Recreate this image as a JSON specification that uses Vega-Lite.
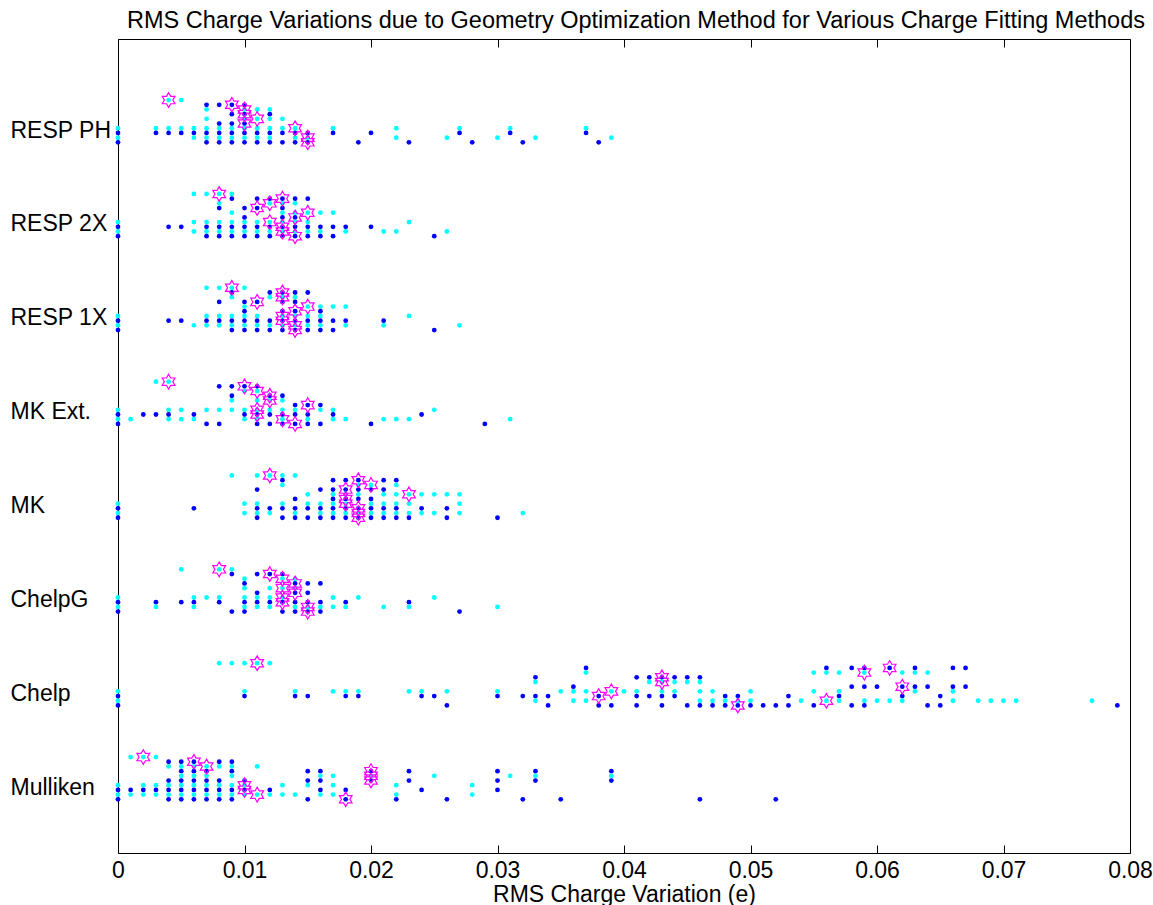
{
  "$schema": "https://vega.github.io/schema/vega-lite/v6.json",
  "width": 1012,
  "height": 814,
  "autosize": {"type": "none"},
  "padding": {"left": 118, "top": 39, "right": 23, "bottom": 52},
  "background": "white",
  "title": {
    "text": "RMS Charge Variations due to Geometry Optimization Method for Various Charge Fitting Methods",
    "font": "Liberation Sans",
    "fontSize": 23.5,
    "fontWeight": "normal",
    "color": "black",
    "anchor": "middle",
    "baseline": "alphabetic",
    "offset": -13,
    "dx": 12
  },
  "config": {
    "font": "Liberation Sans",
    "view": {"stroke": "black", "strokeWidth": 1}
  },
  "data": {"values": [
{"method":"RESP PH","rms":0.004,"level":9,"set":"B"},{"method":"RESP PH","rms":0.005,"level":9,"set":"B"},
{"method":"RESP PH","rms":0.007,"level":8,"set":"A"},{"method":"RESP PH","rms":0.008,"level":8,"set":"A"},{"method":"RESP PH","rms":0.009,"level":8,"set":"A"},{"method":"RESP PH","rms":0.01,"level":8,"set":"A"},
{"method":"RESP PH","rms":0.007,"level":7,"set":"B"},{"method":"RESP PH","rms":0.01,"level":7,"set":"B"},{"method":"RESP PH","rms":0.011,"level":7,"set":"B"},{"method":"RESP PH","rms":0.012,"level":7,"set":"B"},
{"method":"RESP PH","rms":0.009,"level":6,"set":"A"},{"method":"RESP PH","rms":0.01,"level":6,"set":"A"},{"method":"RESP PH","rms":0.012,"level":6,"set":"A"},
{"method":"RESP PH","rms":0.007,"level":5,"set":"B"},{"method":"RESP PH","rms":0.01,"level":5,"set":"B"},{"method":"RESP PH","rms":0.011,"level":5,"set":"B"},{"method":"RESP PH","rms":0.012,"level":5,"set":"B"},{"method":"RESP PH","rms":0.013,"level":5,"set":"B"},
{"method":"RESP PH","rms":0.008,"level":4,"set":"A"},{"method":"RESP PH","rms":0.009,"level":4,"set":"A"},{"method":"RESP PH","rms":0.01,"level":4,"set":"A"},
{"method":"RESP PH","rms":0,"level":3,"set":"B"},{"method":"RESP PH","rms":0.003,"level":3,"set":"B"},{"method":"RESP PH","rms":0.004,"level":3,"set":"B"},{"method":"RESP PH","rms":0.005,"level":3,"set":"B"},{"method":"RESP PH","rms":0.006,"level":3,"set":"B"},{"method":"RESP PH","rms":0.007,"level":3,"set":"B"},{"method":"RESP PH","rms":0.008,"level":3,"set":"B"},{"method":"RESP PH","rms":0.009,"level":3,"set":"B"},{"method":"RESP PH","rms":0.01,"level":3,"set":"B"},{"method":"RESP PH","rms":0.011,"level":3,"set":"B"},{"method":"RESP PH","rms":0.012,"level":3,"set":"B"},{"method":"RESP PH","rms":0.013,"level":3,"set":"B"},{"method":"RESP PH","rms":0.014,"level":3,"set":"B"},{"method":"RESP PH","rms":0.017,"level":3,"set":"B"},{"method":"RESP PH","rms":0.022,"level":3,"set":"B"},{"method":"RESP PH","rms":0.027,"level":3,"set":"B"},{"method":"RESP PH","rms":0.031,"level":3,"set":"B"},{"method":"RESP PH","rms":0.037,"level":3,"set":"B"},
{"method":"RESP PH","rms":0,"level":2,"set":"A"},{"method":"RESP PH","rms":0.003,"level":2,"set":"A"},{"method":"RESP PH","rms":0.004,"level":2,"set":"A"},{"method":"RESP PH","rms":0.005,"level":2,"set":"A"},{"method":"RESP PH","rms":0.006,"level":2,"set":"A"},{"method":"RESP PH","rms":0.007,"level":2,"set":"A"},{"method":"RESP PH","rms":0.008,"level":2,"set":"A"},{"method":"RESP PH","rms":0.009,"level":2,"set":"A"},{"method":"RESP PH","rms":0.01,"level":2,"set":"A"},{"method":"RESP PH","rms":0.011,"level":2,"set":"A"},{"method":"RESP PH","rms":0.012,"level":2,"set":"A"},{"method":"RESP PH","rms":0.013,"level":2,"set":"A"},{"method":"RESP PH","rms":0.014,"level":2,"set":"A"},{"method":"RESP PH","rms":0.015,"level":2,"set":"A"},{"method":"RESP PH","rms":0.017,"level":2,"set":"A"},{"method":"RESP PH","rms":0.02,"level":2,"set":"A"},{"method":"RESP PH","rms":0.027,"level":2,"set":"A"},{"method":"RESP PH","rms":0.031,"level":2,"set":"A"},{"method":"RESP PH","rms":0.037,"level":2,"set":"A"},
{"method":"RESP PH","rms":0,"level":1,"set":"B"},{"method":"RESP PH","rms":0.006,"level":1,"set":"B"},{"method":"RESP PH","rms":0.007,"level":1,"set":"B"},{"method":"RESP PH","rms":0.008,"level":1,"set":"B"},{"method":"RESP PH","rms":0.009,"level":1,"set":"B"},{"method":"RESP PH","rms":0.01,"level":1,"set":"B"},{"method":"RESP PH","rms":0.011,"level":1,"set":"B"},{"method":"RESP PH","rms":0.012,"level":1,"set":"B"},{"method":"RESP PH","rms":0.014,"level":1,"set":"B"},{"method":"RESP PH","rms":0.015,"level":1,"set":"B"},{"method":"RESP PH","rms":0.022,"level":1,"set":"B"},{"method":"RESP PH","rms":0.026,"level":1,"set":"B"},{"method":"RESP PH","rms":0.03,"level":1,"set":"B"},{"method":"RESP PH","rms":0.033,"level":1,"set":"B"},{"method":"RESP PH","rms":0.039,"level":1,"set":"B"},
{"method":"RESP PH","rms":0,"level":0,"set":"A"},{"method":"RESP PH","rms":0.007,"level":0,"set":"A"},{"method":"RESP PH","rms":0.008,"level":0,"set":"A"},{"method":"RESP PH","rms":0.009,"level":0,"set":"A"},{"method":"RESP PH","rms":0.01,"level":0,"set":"A"},{"method":"RESP PH","rms":0.011,"level":0,"set":"A"},{"method":"RESP PH","rms":0.012,"level":0,"set":"A"},{"method":"RESP PH","rms":0.013,"level":0,"set":"A"},{"method":"RESP PH","rms":0.014,"level":0,"set":"A"},{"method":"RESP PH","rms":0.015,"level":0,"set":"A"},{"method":"RESP PH","rms":0.019,"level":0,"set":"A"},{"method":"RESP PH","rms":0.023,"level":0,"set":"A"},{"method":"RESP PH","rms":0.028,"level":0,"set":"A"},{"method":"RESP PH","rms":0.032,"level":0,"set":"A"},{"method":"RESP PH","rms":0.038,"level":0,"set":"A"},

{"method":"RESP 2X","rms":0.006,"level":9,"set":"B"},{"method":"RESP 2X","rms":0.007,"level":9,"set":"B"},{"method":"RESP 2X","rms":0.008,"level":9,"set":"B"},{"method":"RESP 2X","rms":0.009,"level":9,"set":"B"},
{"method":"RESP 2X","rms":0.009,"level":8,"set":"A"},{"method":"RESP 2X","rms":0.011,"level":8,"set":"A"},{"method":"RESP 2X","rms":0.012,"level":8,"set":"A"},{"method":"RESP 2X","rms":0.013,"level":8,"set":"A"},{"method":"RESP 2X","rms":0.014,"level":8,"set":"A"},{"method":"RESP 2X","rms":0.015,"level":8,"set":"A"},
{"method":"RESP 2X","rms":0.008,"level":7,"set":"B"},{"method":"RESP 2X","rms":0.012,"level":7,"set":"B"},{"method":"RESP 2X","rms":0.013,"level":7,"set":"B"},{"method":"RESP 2X","rms":0.014,"level":7,"set":"B"},
{"method":"RESP 2X","rms":0.008,"level":6,"set":"A"},{"method":"RESP 2X","rms":0.01,"level":6,"set":"A"},{"method":"RESP 2X","rms":0.011,"level":6,"set":"A"},{"method":"RESP 2X","rms":0.013,"level":6,"set":"A"},
{"method":"RESP 2X","rms":0.009,"level":5,"set":"B"},{"method":"RESP 2X","rms":0.013,"level":5,"set":"B"},{"method":"RESP 2X","rms":0.014,"level":5,"set":"B"},{"method":"RESP 2X","rms":0.015,"level":5,"set":"B"},{"method":"RESP 2X","rms":0.016,"level":5,"set":"B"},{"method":"RESP 2X","rms":0.017,"level":5,"set":"B"},
{"method":"RESP 2X","rms":0.01,"level":4,"set":"A"},{"method":"RESP 2X","rms":0.013,"level":4,"set":"A"},{"method":"RESP 2X","rms":0.014,"level":4,"set":"A"},
{"method":"RESP 2X","rms":0,"level":3,"set":"B"},{"method":"RESP 2X","rms":0.006,"level":3,"set":"B"},{"method":"RESP 2X","rms":0.007,"level":3,"set":"B"},{"method":"RESP 2X","rms":0.008,"level":3,"set":"B"},{"method":"RESP 2X","rms":0.009,"level":3,"set":"B"},{"method":"RESP 2X","rms":0.01,"level":3,"set":"B"},{"method":"RESP 2X","rms":0.011,"level":3,"set":"B"},{"method":"RESP 2X","rms":0.012,"level":3,"set":"B"},{"method":"RESP 2X","rms":0.013,"level":3,"set":"B"},{"method":"RESP 2X","rms":0.014,"level":3,"set":"B"},{"method":"RESP 2X","rms":0.015,"level":3,"set":"B"},{"method":"RESP 2X","rms":0.023,"level":3,"set":"B"},
{"method":"RESP 2X","rms":0,"level":2,"set":"A"},{"method":"RESP 2X","rms":0.004,"level":2,"set":"A"},{"method":"RESP 2X","rms":0.005,"level":2,"set":"A"},{"method":"RESP 2X","rms":0.007,"level":2,"set":"A"},{"method":"RESP 2X","rms":0.008,"level":2,"set":"A"},{"method":"RESP 2X","rms":0.009,"level":2,"set":"A"},{"method":"RESP 2X","rms":0.01,"level":2,"set":"A"},{"method":"RESP 2X","rms":0.011,"level":2,"set":"A"},{"method":"RESP 2X","rms":0.012,"level":2,"set":"A"},{"method":"RESP 2X","rms":0.013,"level":2,"set":"A"},{"method":"RESP 2X","rms":0.014,"level":2,"set":"A"},{"method":"RESP 2X","rms":0.015,"level":2,"set":"A"},{"method":"RESP 2X","rms":0.016,"level":2,"set":"A"},{"method":"RESP 2X","rms":0.017,"level":2,"set":"A"},{"method":"RESP 2X","rms":0.018,"level":2,"set":"A"},{"method":"RESP 2X","rms":0.02,"level":2,"set":"A"},
{"method":"RESP 2X","rms":0,"level":1,"set":"B"},{"method":"RESP 2X","rms":0.006,"level":1,"set":"B"},{"method":"RESP 2X","rms":0.007,"level":1,"set":"B"},{"method":"RESP 2X","rms":0.008,"level":1,"set":"B"},{"method":"RESP 2X","rms":0.009,"level":1,"set":"B"},{"method":"RESP 2X","rms":0.01,"level":1,"set":"B"},{"method":"RESP 2X","rms":0.011,"level":1,"set":"B"},{"method":"RESP 2X","rms":0.012,"level":1,"set":"B"},{"method":"RESP 2X","rms":0.013,"level":1,"set":"B"},{"method":"RESP 2X","rms":0.014,"level":1,"set":"B"},{"method":"RESP 2X","rms":0.015,"level":1,"set":"B"},{"method":"RESP 2X","rms":0.016,"level":1,"set":"B"},{"method":"RESP 2X","rms":0.018,"level":1,"set":"B"},{"method":"RESP 2X","rms":0.021,"level":1,"set":"B"},{"method":"RESP 2X","rms":0.022,"level":1,"set":"B"},{"method":"RESP 2X","rms":0.026,"level":1,"set":"B"},
{"method":"RESP 2X","rms":0,"level":0,"set":"A"},{"method":"RESP 2X","rms":0.007,"level":0,"set":"A"},{"method":"RESP 2X","rms":0.008,"level":0,"set":"A"},{"method":"RESP 2X","rms":0.009,"level":0,"set":"A"},{"method":"RESP 2X","rms":0.01,"level":0,"set":"A"},{"method":"RESP 2X","rms":0.011,"level":0,"set":"A"},{"method":"RESP 2X","rms":0.012,"level":0,"set":"A"},{"method":"RESP 2X","rms":0.013,"level":0,"set":"A"},{"method":"RESP 2X","rms":0.014,"level":0,"set":"A"},{"method":"RESP 2X","rms":0.015,"level":0,"set":"A"},{"method":"RESP 2X","rms":0.016,"level":0,"set":"A"},{"method":"RESP 2X","rms":0.017,"level":0,"set":"A"},{"method":"RESP 2X","rms":0.025,"level":0,"set":"A"},

{"method":"RESP 1X","rms":0.007,"level":9,"set":"B"},{"method":"RESP 1X","rms":0.008,"level":9,"set":"B"},{"method":"RESP 1X","rms":0.009,"level":9,"set":"B"},{"method":"RESP 1X","rms":0.01,"level":9,"set":"B"},
{"method":"RESP 1X","rms":0.009,"level":8,"set":"A"},{"method":"RESP 1X","rms":0.012,"level":8,"set":"A"},{"method":"RESP 1X","rms":0.013,"level":8,"set":"A"},{"method":"RESP 1X","rms":0.014,"level":8,"set":"A"},{"method":"RESP 1X","rms":0.015,"level":8,"set":"A"},
{"method":"RESP 1X","rms":0.009,"level":7,"set":"B"},{"method":"RESP 1X","rms":0.012,"level":7,"set":"B"},{"method":"RESP 1X","rms":0.013,"level":7,"set":"B"},{"method":"RESP 1X","rms":0.014,"level":7,"set":"B"},
{"method":"RESP 1X","rms":0.008,"level":6,"set":"A"},{"method":"RESP 1X","rms":0.01,"level":6,"set":"A"},{"method":"RESP 1X","rms":0.011,"level":6,"set":"A"},{"method":"RESP 1X","rms":0.013,"level":6,"set":"A"},{"method":"RESP 1X","rms":0.014,"level":6,"set":"A"},
{"method":"RESP 1X","rms":0.01,"level":5,"set":"B"},{"method":"RESP 1X","rms":0.015,"level":5,"set":"B"},{"method":"RESP 1X","rms":0.016,"level":5,"set":"B"},{"method":"RESP 1X","rms":0.017,"level":5,"set":"B"},{"method":"RESP 1X","rms":0.018,"level":5,"set":"B"},
{"method":"RESP 1X","rms":0.01,"level":4,"set":"A"},{"method":"RESP 1X","rms":0.013,"level":4,"set":"A"},{"method":"RESP 1X","rms":0.014,"level":4,"set":"A"},{"method":"RESP 1X","rms":0.016,"level":4,"set":"A"},
{"method":"RESP 1X","rms":0,"level":3,"set":"B"},{"method":"RESP 1X","rms":0.007,"level":3,"set":"B"},{"method":"RESP 1X","rms":0.008,"level":3,"set":"B"},{"method":"RESP 1X","rms":0.009,"level":3,"set":"B"},{"method":"RESP 1X","rms":0.01,"level":3,"set":"B"},{"method":"RESP 1X","rms":0.011,"level":3,"set":"B"},{"method":"RESP 1X","rms":0.013,"level":3,"set":"B"},{"method":"RESP 1X","rms":0.014,"level":3,"set":"B"},{"method":"RESP 1X","rms":0.015,"level":3,"set":"B"},{"method":"RESP 1X","rms":0.016,"level":3,"set":"B"},{"method":"RESP 1X","rms":0.023,"level":3,"set":"B"},
{"method":"RESP 1X","rms":0,"level":2,"set":"A"},{"method":"RESP 1X","rms":0.004,"level":2,"set":"A"},{"method":"RESP 1X","rms":0.005,"level":2,"set":"A"},{"method":"RESP 1X","rms":0.007,"level":2,"set":"A"},{"method":"RESP 1X","rms":0.008,"level":2,"set":"A"},{"method":"RESP 1X","rms":0.009,"level":2,"set":"A"},{"method":"RESP 1X","rms":0.01,"level":2,"set":"A"},{"method":"RESP 1X","rms":0.011,"level":2,"set":"A"},{"method":"RESP 1X","rms":0.012,"level":2,"set":"A"},{"method":"RESP 1X","rms":0.013,"level":2,"set":"A"},{"method":"RESP 1X","rms":0.014,"level":2,"set":"A"},{"method":"RESP 1X","rms":0.015,"level":2,"set":"A"},{"method":"RESP 1X","rms":0.016,"level":2,"set":"A"},{"method":"RESP 1X","rms":0.017,"level":2,"set":"A"},{"method":"RESP 1X","rms":0.018,"level":2,"set":"A"},{"method":"RESP 1X","rms":0.021,"level":2,"set":"A"},
{"method":"RESP 1X","rms":0,"level":1,"set":"B"},{"method":"RESP 1X","rms":0.006,"level":1,"set":"B"},{"method":"RESP 1X","rms":0.007,"level":1,"set":"B"},{"method":"RESP 1X","rms":0.008,"level":1,"set":"B"},{"method":"RESP 1X","rms":0.009,"level":1,"set":"B"},{"method":"RESP 1X","rms":0.01,"level":1,"set":"B"},{"method":"RESP 1X","rms":0.011,"level":1,"set":"B"},{"method":"RESP 1X","rms":0.012,"level":1,"set":"B"},{"method":"RESP 1X","rms":0.013,"level":1,"set":"B"},{"method":"RESP 1X","rms":0.014,"level":1,"set":"B"},{"method":"RESP 1X","rms":0.015,"level":1,"set":"B"},{"method":"RESP 1X","rms":0.016,"level":1,"set":"B"},{"method":"RESP 1X","rms":0.018,"level":1,"set":"B"},{"method":"RESP 1X","rms":0.021,"level":1,"set":"B"},{"method":"RESP 1X","rms":0.027,"level":1,"set":"B"},
{"method":"RESP 1X","rms":0,"level":0,"set":"A"},{"method":"RESP 1X","rms":0.009,"level":0,"set":"A"},{"method":"RESP 1X","rms":0.01,"level":0,"set":"A"},{"method":"RESP 1X","rms":0.011,"level":0,"set":"A"},{"method":"RESP 1X","rms":0.012,"level":0,"set":"A"},{"method":"RESP 1X","rms":0.013,"level":0,"set":"A"},{"method":"RESP 1X","rms":0.014,"level":0,"set":"A"},{"method":"RESP 1X","rms":0.015,"level":0,"set":"A"},{"method":"RESP 1X","rms":0.016,"level":0,"set":"A"},{"method":"RESP 1X","rms":0.017,"level":0,"set":"A"},{"method":"RESP 1X","rms":0.025,"level":0,"set":"A"},

{"method":"MK Ext.","rms":0.003,"level":9,"set":"B"},{"method":"MK Ext.","rms":0.004,"level":9,"set":"B"},
{"method":"MK Ext.","rms":0.008,"level":8,"set":"A"},{"method":"MK Ext.","rms":0.009,"level":8,"set":"A"},{"method":"MK Ext.","rms":0.01,"level":8,"set":"A"},{"method":"MK Ext.","rms":0.011,"level":8,"set":"A"},
{"method":"MK Ext.","rms":0.01,"level":7,"set":"B"},{"method":"MK Ext.","rms":0.011,"level":7,"set":"B"},
{"method":"MK Ext.","rms":0.009,"level":6,"set":"A"},{"method":"MK Ext.","rms":0.012,"level":6,"set":"A"},{"method":"MK Ext.","rms":0.013,"level":6,"set":"A"},
{"method":"MK Ext.","rms":0.009,"level":5,"set":"B"},{"method":"MK Ext.","rms":0.011,"level":5,"set":"B"},{"method":"MK Ext.","rms":0.012,"level":5,"set":"B"},{"method":"MK Ext.","rms":0.013,"level":5,"set":"B"},
{"method":"MK Ext.","rms":0.014,"level":4,"set":"A"},{"method":"MK Ext.","rms":0.015,"level":4,"set":"A"},{"method":"MK Ext.","rms":0.016,"level":4,"set":"A"},
{"method":"MK Ext.","rms":0,"level":3,"set":"B"},{"method":"MK Ext.","rms":0.004,"level":3,"set":"B"},{"method":"MK Ext.","rms":0.005,"level":3,"set":"B"},{"method":"MK Ext.","rms":0.007,"level":3,"set":"B"},{"method":"MK Ext.","rms":0.008,"level":3,"set":"B"},{"method":"MK Ext.","rms":0.009,"level":3,"set":"B"},{"method":"MK Ext.","rms":0.01,"level":3,"set":"B"},{"method":"MK Ext.","rms":0.011,"level":3,"set":"B"},{"method":"MK Ext.","rms":0.012,"level":3,"set":"B"},{"method":"MK Ext.","rms":0.013,"level":3,"set":"B"},{"method":"MK Ext.","rms":0.014,"level":3,"set":"B"},{"method":"MK Ext.","rms":0.016,"level":3,"set":"B"},{"method":"MK Ext.","rms":0.017,"level":3,"set":"B"},{"method":"MK Ext.","rms":0.025,"level":3,"set":"B"},
{"method":"MK Ext.","rms":0,"level":2,"set":"A"},{"method":"MK Ext.","rms":0.002,"level":2,"set":"A"},{"method":"MK Ext.","rms":0.003,"level":2,"set":"A"},{"method":"MK Ext.","rms":0.004,"level":2,"set":"A"},{"method":"MK Ext.","rms":0.006,"level":2,"set":"A"},{"method":"MK Ext.","rms":0.01,"level":2,"set":"A"},{"method":"MK Ext.","rms":0.011,"level":2,"set":"A"},{"method":"MK Ext.","rms":0.012,"level":2,"set":"A"},{"method":"MK Ext.","rms":0.013,"level":2,"set":"A"},{"method":"MK Ext.","rms":0.014,"level":2,"set":"A"},{"method":"MK Ext.","rms":0.015,"level":2,"set":"A"},{"method":"MK Ext.","rms":0.017,"level":2,"set":"A"},{"method":"MK Ext.","rms":0.024,"level":2,"set":"A"},
{"method":"MK Ext.","rms":0,"level":1,"set":"B"},{"method":"MK Ext.","rms":0.001,"level":1,"set":"B"},{"method":"MK Ext.","rms":0.004,"level":1,"set":"B"},{"method":"MK Ext.","rms":0.005,"level":1,"set":"B"},{"method":"MK Ext.","rms":0.006,"level":1,"set":"B"},{"method":"MK Ext.","rms":0.01,"level":1,"set":"B"},{"method":"MK Ext.","rms":0.011,"level":1,"set":"B"},{"method":"MK Ext.","rms":0.013,"level":1,"set":"B"},{"method":"MK Ext.","rms":0.015,"level":1,"set":"B"},{"method":"MK Ext.","rms":0.017,"level":1,"set":"B"},{"method":"MK Ext.","rms":0.018,"level":1,"set":"B"},{"method":"MK Ext.","rms":0.021,"level":1,"set":"B"},{"method":"MK Ext.","rms":0.022,"level":1,"set":"B"},{"method":"MK Ext.","rms":0.023,"level":1,"set":"B"},{"method":"MK Ext.","rms":0.031,"level":1,"set":"B"},
{"method":"MK Ext.","rms":0,"level":0,"set":"A"},{"method":"MK Ext.","rms":0.007,"level":0,"set":"A"},{"method":"MK Ext.","rms":0.008,"level":0,"set":"A"},{"method":"MK Ext.","rms":0.011,"level":0,"set":"A"},{"method":"MK Ext.","rms":0.012,"level":0,"set":"A"},{"method":"MK Ext.","rms":0.013,"level":0,"set":"A"},{"method":"MK Ext.","rms":0.014,"level":0,"set":"A"},{"method":"MK Ext.","rms":0.015,"level":0,"set":"A"},{"method":"MK Ext.","rms":0.016,"level":0,"set":"A"},{"method":"MK Ext.","rms":0.02,"level":0,"set":"A"},{"method":"MK Ext.","rms":0.029,"level":0,"set":"A"},

{"method":"MK","rms":0.009,"level":9,"set":"B"},{"method":"MK","rms":0.011,"level":9,"set":"B"},{"method":"MK","rms":0.012,"level":9,"set":"B"},{"method":"MK","rms":0.013,"level":9,"set":"B"},{"method":"MK","rms":0.014,"level":9,"set":"B"},
{"method":"MK","rms":0.013,"level":8,"set":"A"},{"method":"MK","rms":0.017,"level":8,"set":"A"},{"method":"MK","rms":0.018,"level":8,"set":"A"},{"method":"MK","rms":0.019,"level":8,"set":"A"},{"method":"MK","rms":0.021,"level":8,"set":"A"},{"method":"MK","rms":0.022,"level":8,"set":"A"},
{"method":"MK","rms":0.013,"level":7,"set":"B"},{"method":"MK","rms":0.019,"level":7,"set":"B"},{"method":"MK","rms":0.02,"level":7,"set":"B"},{"method":"MK","rms":0.022,"level":7,"set":"B"},
{"method":"MK","rms":0.011,"level":6,"set":"A"},{"method":"MK","rms":0.016,"level":6,"set":"A"},{"method":"MK","rms":0.017,"level":6,"set":"A"},{"method":"MK","rms":0.018,"level":6,"set":"A"},{"method":"MK","rms":0.019,"level":6,"set":"A"},{"method":"MK","rms":0.02,"level":6,"set":"A"},{"method":"MK","rms":0.021,"level":6,"set":"A"},
{"method":"MK","rms":0.015,"level":5,"set":"B"},{"method":"MK","rms":0.017,"level":5,"set":"B"},{"method":"MK","rms":0.018,"level":5,"set":"B"},{"method":"MK","rms":0.019,"level":5,"set":"B"},{"method":"MK","rms":0.021,"level":5,"set":"B"},{"method":"MK","rms":0.022,"level":5,"set":"B"},{"method":"MK","rms":0.023,"level":5,"set":"B"},{"method":"MK","rms":0.024,"level":5,"set":"B"},{"method":"MK","rms":0.025,"level":5,"set":"B"},{"method":"MK","rms":0.026,"level":5,"set":"B"},{"method":"MK","rms":0.027,"level":5,"set":"B"},
{"method":"MK","rms":0.014,"level":4,"set":"A"},{"method":"MK","rms":0.017,"level":4,"set":"A"},{"method":"MK","rms":0.018,"level":4,"set":"A"},{"method":"MK","rms":0.019,"level":4,"set":"A"},{"method":"MK","rms":0.02,"level":4,"set":"A"},
{"method":"MK","rms":0,"level":3,"set":"B"},{"method":"MK","rms":0.01,"level":3,"set":"B"},{"method":"MK","rms":0.011,"level":3,"set":"B"},{"method":"MK","rms":0.013,"level":3,"set":"B"},{"method":"MK","rms":0.015,"level":3,"set":"B"},{"method":"MK","rms":0.016,"level":3,"set":"B"},{"method":"MK","rms":0.017,"level":3,"set":"B"},{"method":"MK","rms":0.018,"level":3,"set":"B"},{"method":"MK","rms":0.02,"level":3,"set":"B"},{"method":"MK","rms":0.021,"level":3,"set":"B"},{"method":"MK","rms":0.022,"level":3,"set":"B"},{"method":"MK","rms":0.023,"level":3,"set":"B"},{"method":"MK","rms":0.027,"level":3,"set":"B"},
{"method":"MK","rms":0,"level":2,"set":"A"},{"method":"MK","rms":0.006,"level":2,"set":"A"},{"method":"MK","rms":0.011,"level":2,"set":"A"},{"method":"MK","rms":0.012,"level":2,"set":"A"},{"method":"MK","rms":0.013,"level":2,"set":"A"},{"method":"MK","rms":0.014,"level":2,"set":"A"},{"method":"MK","rms":0.015,"level":2,"set":"A"},{"method":"MK","rms":0.016,"level":2,"set":"A"},{"method":"MK","rms":0.017,"level":2,"set":"A"},{"method":"MK","rms":0.018,"level":2,"set":"A"},{"method":"MK","rms":0.019,"level":2,"set":"A"},{"method":"MK","rms":0.02,"level":2,"set":"A"},{"method":"MK","rms":0.021,"level":2,"set":"A"},{"method":"MK","rms":0.022,"level":2,"set":"A"},{"method":"MK","rms":0.024,"level":2,"set":"A"},{"method":"MK","rms":0.026,"level":2,"set":"A"},
{"method":"MK","rms":0,"level":1,"set":"B"},{"method":"MK","rms":0.01,"level":1,"set":"B"},{"method":"MK","rms":0.011,"level":1,"set":"B"},{"method":"MK","rms":0.012,"level":1,"set":"B"},{"method":"MK","rms":0.014,"level":1,"set":"B"},{"method":"MK","rms":0.016,"level":1,"set":"B"},{"method":"MK","rms":0.017,"level":1,"set":"B"},{"method":"MK","rms":0.018,"level":1,"set":"B"},{"method":"MK","rms":0.019,"level":1,"set":"B"},{"method":"MK","rms":0.02,"level":1,"set":"B"},{"method":"MK","rms":0.021,"level":1,"set":"B"},{"method":"MK","rms":0.022,"level":1,"set":"B"},{"method":"MK","rms":0.023,"level":1,"set":"B"},{"method":"MK","rms":0.024,"level":1,"set":"B"},{"method":"MK","rms":0.025,"level":1,"set":"B"},{"method":"MK","rms":0.027,"level":1,"set":"B"},{"method":"MK","rms":0.032,"level":1,"set":"B"},
{"method":"MK","rms":0,"level":0,"set":"A"},{"method":"MK","rms":0.011,"level":0,"set":"A"},{"method":"MK","rms":0.013,"level":0,"set":"A"},{"method":"MK","rms":0.014,"level":0,"set":"A"},{"method":"MK","rms":0.015,"level":0,"set":"A"},{"method":"MK","rms":0.016,"level":0,"set":"A"},{"method":"MK","rms":0.017,"level":0,"set":"A"},{"method":"MK","rms":0.018,"level":0,"set":"A"},{"method":"MK","rms":0.019,"level":0,"set":"A"},{"method":"MK","rms":0.02,"level":0,"set":"A"},{"method":"MK","rms":0.021,"level":0,"set":"A"},{"method":"MK","rms":0.022,"level":0,"set":"A"},{"method":"MK","rms":0.023,"level":0,"set":"A"},{"method":"MK","rms":0.026,"level":0,"set":"A"},{"method":"MK","rms":0.03,"level":0,"set":"A"},

{"method":"ChelpG","rms":0.005,"level":9,"set":"B"},{"method":"ChelpG","rms":0.008,"level":9,"set":"B"},{"method":"ChelpG","rms":0.009,"level":9,"set":"B"},
{"method":"ChelpG","rms":0.009,"level":8,"set":"A"},{"method":"ChelpG","rms":0.011,"level":8,"set":"A"},{"method":"ChelpG","rms":0.012,"level":8,"set":"A"},{"method":"ChelpG","rms":0.013,"level":8,"set":"A"},
{"method":"ChelpG","rms":0.01,"level":7,"set":"B"},{"method":"ChelpG","rms":0.013,"level":7,"set":"B"},{"method":"ChelpG","rms":0.014,"level":7,"set":"B"},
{"method":"ChelpG","rms":0.01,"level":6,"set":"A"},{"method":"ChelpG","rms":0.014,"level":6,"set":"A"},{"method":"ChelpG","rms":0.015,"level":6,"set":"A"},{"method":"ChelpG","rms":0.016,"level":6,"set":"A"},
{"method":"ChelpG","rms":0.01,"level":5,"set":"B"},{"method":"ChelpG","rms":0.012,"level":5,"set":"B"},{"method":"ChelpG","rms":0.013,"level":5,"set":"B"},{"method":"ChelpG","rms":0.014,"level":5,"set":"B"},
{"method":"ChelpG","rms":0.011,"level":4,"set":"A"},{"method":"ChelpG","rms":0.014,"level":4,"set":"A"},{"method":"ChelpG","rms":0.015,"level":4,"set":"A"},
{"method":"ChelpG","rms":0,"level":3,"set":"B"},{"method":"ChelpG","rms":0.006,"level":3,"set":"B"},{"method":"ChelpG","rms":0.007,"level":3,"set":"B"},{"method":"ChelpG","rms":0.008,"level":3,"set":"B"},{"method":"ChelpG","rms":0.01,"level":3,"set":"B"},{"method":"ChelpG","rms":0.011,"level":3,"set":"B"},{"method":"ChelpG","rms":0.012,"level":3,"set":"B"},{"method":"ChelpG","rms":0.013,"level":3,"set":"B"},{"method":"ChelpG","rms":0.017,"level":3,"set":"B"},{"method":"ChelpG","rms":0.019,"level":3,"set":"B"},{"method":"ChelpG","rms":0.025,"level":3,"set":"B"},
{"method":"ChelpG","rms":0,"level":2,"set":"A"},{"method":"ChelpG","rms":0.003,"level":2,"set":"A"},{"method":"ChelpG","rms":0.005,"level":2,"set":"A"},{"method":"ChelpG","rms":0.006,"level":2,"set":"A"},{"method":"ChelpG","rms":0.008,"level":2,"set":"A"},{"method":"ChelpG","rms":0.01,"level":2,"set":"A"},{"method":"ChelpG","rms":0.011,"level":2,"set":"A"},{"method":"ChelpG","rms":0.012,"level":2,"set":"A"},{"method":"ChelpG","rms":0.013,"level":2,"set":"A"},{"method":"ChelpG","rms":0.014,"level":2,"set":"A"},{"method":"ChelpG","rms":0.015,"level":2,"set":"A"},{"method":"ChelpG","rms":0.016,"level":2,"set":"A"},{"method":"ChelpG","rms":0.018,"level":2,"set":"A"},{"method":"ChelpG","rms":0.023,"level":2,"set":"A"},
{"method":"ChelpG","rms":0,"level":1,"set":"B"},{"method":"ChelpG","rms":0.003,"level":1,"set":"B"},{"method":"ChelpG","rms":0.006,"level":1,"set":"B"},{"method":"ChelpG","rms":0.01,"level":1,"set":"B"},{"method":"ChelpG","rms":0.011,"level":1,"set":"B"},{"method":"ChelpG","rms":0.012,"level":1,"set":"B"},{"method":"ChelpG","rms":0.014,"level":1,"set":"B"},{"method":"ChelpG","rms":0.015,"level":1,"set":"B"},{"method":"ChelpG","rms":0.016,"level":1,"set":"B"},{"method":"ChelpG","rms":0.017,"level":1,"set":"B"},{"method":"ChelpG","rms":0.018,"level":1,"set":"B"},{"method":"ChelpG","rms":0.021,"level":1,"set":"B"},{"method":"ChelpG","rms":0.023,"level":1,"set":"B"},{"method":"ChelpG","rms":0.03,"level":1,"set":"B"},
{"method":"ChelpG","rms":0,"level":0,"set":"A"},{"method":"ChelpG","rms":0.009,"level":0,"set":"A"},{"method":"ChelpG","rms":0.01,"level":0,"set":"A"},{"method":"ChelpG","rms":0.013,"level":0,"set":"A"},{"method":"ChelpG","rms":0.014,"level":0,"set":"A"},{"method":"ChelpG","rms":0.015,"level":0,"set":"A"},{"method":"ChelpG","rms":0.016,"level":0,"set":"A"},{"method":"ChelpG","rms":0.027,"level":0,"set":"A"},

{"method":"Chelp","rms":0.008,"level":9,"set":"B"},{"method":"Chelp","rms":0.009,"level":9,"set":"B"},{"method":"Chelp","rms":0.01,"level":9,"set":"B"},{"method":"Chelp","rms":0.011,"level":9,"set":"B"},{"method":"Chelp","rms":0.012,"level":9,"set":"B"},
{"method":"Chelp","rms":0.037,"level":8,"set":"A"},{"method":"Chelp","rms":0.056,"level":8,"set":"A"},{"method":"Chelp","rms":0.058,"level":8,"set":"A"},{"method":"Chelp","rms":0.059,"level":8,"set":"A"},{"method":"Chelp","rms":0.061,"level":8,"set":"A"},{"method":"Chelp","rms":0.063,"level":8,"set":"A"},{"method":"Chelp","rms":0.066,"level":8,"set":"A"},{"method":"Chelp","rms":0.067,"level":8,"set":"A"},
{"method":"Chelp","rms":0.037,"level":7,"set":"B"},{"method":"Chelp","rms":0.055,"level":7,"set":"B"},{"method":"Chelp","rms":0.056,"level":7,"set":"B"},{"method":"Chelp","rms":0.057,"level":7,"set":"B"},{"method":"Chelp","rms":0.059,"level":7,"set":"B"},{"method":"Chelp","rms":0.062,"level":7,"set":"B"},{"method":"Chelp","rms":0.063,"level":7,"set":"B"},{"method":"Chelp","rms":0.064,"level":7,"set":"B"},
{"method":"Chelp","rms":0.033,"level":6,"set":"A"},{"method":"Chelp","rms":0.041,"level":6,"set":"A"},{"method":"Chelp","rms":0.042,"level":6,"set":"A"},{"method":"Chelp","rms":0.043,"level":6,"set":"A"},{"method":"Chelp","rms":0.044,"level":6,"set":"A"},{"method":"Chelp","rms":0.045,"level":6,"set":"A"},{"method":"Chelp","rms":0.046,"level":6,"set":"A"},
{"method":"Chelp","rms":0.033,"level":5,"set":"B"},{"method":"Chelp","rms":0.042,"level":5,"set":"B"},{"method":"Chelp","rms":0.043,"level":5,"set":"B"},{"method":"Chelp","rms":0.044,"level":5,"set":"B"},{"method":"Chelp","rms":0.045,"level":5,"set":"B"},{"method":"Chelp","rms":0.046,"level":5,"set":"B"},
{"method":"Chelp","rms":0.036,"level":4,"set":"A"},{"method":"Chelp","rms":0.058,"level":4,"set":"A"},{"method":"Chelp","rms":0.059,"level":4,"set":"A"},{"method":"Chelp","rms":0.06,"level":4,"set":"A"},{"method":"Chelp","rms":0.062,"level":4,"set":"A"},{"method":"Chelp","rms":0.063,"level":4,"set":"A"},{"method":"Chelp","rms":0.064,"level":4,"set":"A"},{"method":"Chelp","rms":0.066,"level":4,"set":"A"},{"method":"Chelp","rms":0.067,"level":4,"set":"A"},
{"method":"Chelp","rms":0,"level":3,"set":"B"},{"method":"Chelp","rms":0.01,"level":3,"set":"B"},{"method":"Chelp","rms":0.014,"level":3,"set":"B"},{"method":"Chelp","rms":0.017,"level":3,"set":"B"},{"method":"Chelp","rms":0.018,"level":3,"set":"B"},{"method":"Chelp","rms":0.019,"level":3,"set":"B"},{"method":"Chelp","rms":0.023,"level":3,"set":"B"},{"method":"Chelp","rms":0.024,"level":3,"set":"B"},{"method":"Chelp","rms":0.026,"level":3,"set":"B"},{"method":"Chelp","rms":0.03,"level":3,"set":"B"},{"method":"Chelp","rms":0.035,"level":3,"set":"B"},{"method":"Chelp","rms":0.036,"level":3,"set":"B"},{"method":"Chelp","rms":0.037,"level":3,"set":"B"},{"method":"Chelp","rms":0.039,"level":3,"set":"B"},{"method":"Chelp","rms":0.04,"level":3,"set":"B"},{"method":"Chelp","rms":0.041,"level":3,"set":"B"},{"method":"Chelp","rms":0.043,"level":3,"set":"B"},{"method":"Chelp","rms":0.044,"level":3,"set":"B"},{"method":"Chelp","rms":0.046,"level":3,"set":"B"},{"method":"Chelp","rms":0.047,"level":3,"set":"B"},{"method":"Chelp","rms":0.05,"level":3,"set":"B"},{"method":"Chelp","rms":0.055,"level":3,"set":"B"},{"method":"Chelp","rms":0.057,"level":3,"set":"B"},{"method":"Chelp","rms":0.063,"level":3,"set":"B"},{"method":"Chelp","rms":0.066,"level":3,"set":"B"},
{"method":"Chelp","rms":0,"level":2,"set":"A"},{"method":"Chelp","rms":0.01,"level":2,"set":"A"},{"method":"Chelp","rms":0.014,"level":2,"set":"A"},{"method":"Chelp","rms":0.015,"level":2,"set":"A"},{"method":"Chelp","rms":0.018,"level":2,"set":"A"},{"method":"Chelp","rms":0.019,"level":2,"set":"A"},{"method":"Chelp","rms":0.024,"level":2,"set":"A"},{"method":"Chelp","rms":0.025,"level":2,"set":"A"},{"method":"Chelp","rms":0.03,"level":2,"set":"A"},{"method":"Chelp","rms":0.032,"level":2,"set":"A"},{"method":"Chelp","rms":0.033,"level":2,"set":"A"},{"method":"Chelp","rms":0.034,"level":2,"set":"A"},{"method":"Chelp","rms":0.038,"level":2,"set":"A"},{"method":"Chelp","rms":0.041,"level":2,"set":"A"},{"method":"Chelp","rms":0.042,"level":2,"set":"A"},{"method":"Chelp","rms":0.043,"level":2,"set":"A"},{"method":"Chelp","rms":0.044,"level":2,"set":"A"},{"method":"Chelp","rms":0.048,"level":2,"set":"A"},{"method":"Chelp","rms":0.049,"level":2,"set":"A"},{"method":"Chelp","rms":0.053,"level":2,"set":"A"},{"method":"Chelp","rms":0.057,"level":2,"set":"A"},{"method":"Chelp","rms":0.062,"level":2,"set":"A"},{"method":"Chelp","rms":0.065,"level":2,"set":"A"},
{"method":"Chelp","rms":0,"level":1,"set":"B"},{"method":"Chelp","rms":0.033,"level":1,"set":"B"},{"method":"Chelp","rms":0.036,"level":1,"set":"B"},{"method":"Chelp","rms":0.037,"level":1,"set":"B"},{"method":"Chelp","rms":0.046,"level":1,"set":"B"},{"method":"Chelp","rms":0.047,"level":1,"set":"B"},{"method":"Chelp","rms":0.048,"level":1,"set":"B"},{"method":"Chelp","rms":0.049,"level":1,"set":"B"},{"method":"Chelp","rms":0.05,"level":1,"set":"B"},{"method":"Chelp","rms":0.054,"level":1,"set":"B"},{"method":"Chelp","rms":0.056,"level":1,"set":"B"},{"method":"Chelp","rms":0.057,"level":1,"set":"B"},{"method":"Chelp","rms":0.059,"level":1,"set":"B"},{"method":"Chelp","rms":0.06,"level":1,"set":"B"},{"method":"Chelp","rms":0.061,"level":1,"set":"B"},{"method":"Chelp","rms":0.062,"level":1,"set":"B"},{"method":"Chelp","rms":0.066,"level":1,"set":"B"},{"method":"Chelp","rms":0.068,"level":1,"set":"B"},{"method":"Chelp","rms":0.069,"level":1,"set":"B"},{"method":"Chelp","rms":0.07,"level":1,"set":"B"},{"method":"Chelp","rms":0.071,"level":1,"set":"B"},{"method":"Chelp","rms":0.077,"level":1,"set":"B"},
{"method":"Chelp","rms":0,"level":0,"set":"A"},{"method":"Chelp","rms":0.026,"level":0,"set":"A"},{"method":"Chelp","rms":0.034,"level":0,"set":"A"},{"method":"Chelp","rms":0.038,"level":0,"set":"A"},{"method":"Chelp","rms":0.039,"level":0,"set":"A"},{"method":"Chelp","rms":0.041,"level":0,"set":"A"},{"method":"Chelp","rms":0.043,"level":0,"set":"A"},{"method":"Chelp","rms":0.045,"level":0,"set":"A"},{"method":"Chelp","rms":0.046,"level":0,"set":"A"},{"method":"Chelp","rms":0.047,"level":0,"set":"A"},{"method":"Chelp","rms":0.048,"level":0,"set":"A"},{"method":"Chelp","rms":0.049,"level":0,"set":"A"},{"method":"Chelp","rms":0.05,"level":0,"set":"A"},{"method":"Chelp","rms":0.051,"level":0,"set":"A"},{"method":"Chelp","rms":0.052,"level":0,"set":"A"},{"method":"Chelp","rms":0.053,"level":0,"set":"A"},{"method":"Chelp","rms":0.055,"level":0,"set":"A"},{"method":"Chelp","rms":0.058,"level":0,"set":"A"},{"method":"Chelp","rms":0.059,"level":0,"set":"A"},{"method":"Chelp","rms":0.064,"level":0,"set":"A"},{"method":"Chelp","rms":0.065,"level":0,"set":"A"},{"method":"Chelp","rms":0.079,"level":0,"set":"A"},

{"method":"Mulliken","rms":0.001,"level":9,"set":"B"},{"method":"Mulliken","rms":0.002,"level":9,"set":"B"},{"method":"Mulliken","rms":0.003,"level":9,"set":"B"},
{"method":"Mulliken","rms":0.004,"level":8,"set":"A"},{"method":"Mulliken","rms":0.005,"level":8,"set":"A"},{"method":"Mulliken","rms":0.006,"level":8,"set":"A"},{"method":"Mulliken","rms":0.008,"level":8,"set":"A"},{"method":"Mulliken","rms":0.009,"level":8,"set":"A"},
{"method":"Mulliken","rms":0.004,"level":7,"set":"B"},{"method":"Mulliken","rms":0.005,"level":7,"set":"B"},{"method":"Mulliken","rms":0.006,"level":7,"set":"B"},{"method":"Mulliken","rms":0.007,"level":7,"set":"B"},{"method":"Mulliken","rms":0.008,"level":7,"set":"B"},{"method":"Mulliken","rms":0.009,"level":7,"set":"B"},{"method":"Mulliken","rms":0.011,"level":7,"set":"B"},
{"method":"Mulliken","rms":0.005,"level":6,"set":"A"},{"method":"Mulliken","rms":0.006,"level":6,"set":"A"},{"method":"Mulliken","rms":0.007,"level":6,"set":"A"},{"method":"Mulliken","rms":0.009,"level":6,"set":"A"},{"method":"Mulliken","rms":0.015,"level":6,"set":"A"},{"method":"Mulliken","rms":0.016,"level":6,"set":"A"},{"method":"Mulliken","rms":0.02,"level":6,"set":"A"},{"method":"Mulliken","rms":0.023,"level":6,"set":"A"},{"method":"Mulliken","rms":0.03,"level":6,"set":"A"},{"method":"Mulliken","rms":0.033,"level":6,"set":"A"},{"method":"Mulliken","rms":0.039,"level":6,"set":"A"},
{"method":"Mulliken","rms":0.005,"level":5,"set":"B"},{"method":"Mulliken","rms":0.006,"level":5,"set":"B"},{"method":"Mulliken","rms":0.007,"level":5,"set":"B"},{"method":"Mulliken","rms":0.009,"level":5,"set":"B"},{"method":"Mulliken","rms":0.016,"level":5,"set":"B"},{"method":"Mulliken","rms":0.017,"level":5,"set":"B"},{"method":"Mulliken","rms":0.02,"level":5,"set":"B"},{"method":"Mulliken","rms":0.025,"level":5,"set":"B"},{"method":"Mulliken","rms":0.031,"level":5,"set":"B"},{"method":"Mulliken","rms":0.033,"level":5,"set":"B"},{"method":"Mulliken","rms":0.039,"level":5,"set":"B"},
{"method":"Mulliken","rms":0.004,"level":4,"set":"A"},{"method":"Mulliken","rms":0.005,"level":4,"set":"A"},{"method":"Mulliken","rms":0.006,"level":4,"set":"A"},{"method":"Mulliken","rms":0.007,"level":4,"set":"A"},{"method":"Mulliken","rms":0.008,"level":4,"set":"A"},{"method":"Mulliken","rms":0.01,"level":4,"set":"A"},{"method":"Mulliken","rms":0.015,"level":4,"set":"A"},{"method":"Mulliken","rms":0.016,"level":4,"set":"A"},{"method":"Mulliken","rms":0.02,"level":4,"set":"A"},{"method":"Mulliken","rms":0.023,"level":4,"set":"A"},{"method":"Mulliken","rms":0.03,"level":4,"set":"A"},{"method":"Mulliken","rms":0.033,"level":4,"set":"A"},{"method":"Mulliken","rms":0.039,"level":4,"set":"A"},
{"method":"Mulliken","rms":0,"level":3,"set":"B"},{"method":"Mulliken","rms":0.002,"level":3,"set":"B"},{"method":"Mulliken","rms":0.003,"level":3,"set":"B"},{"method":"Mulliken","rms":0.004,"level":3,"set":"B"},{"method":"Mulliken","rms":0.005,"level":3,"set":"B"},{"method":"Mulliken","rms":0.006,"level":3,"set":"B"},{"method":"Mulliken","rms":0.007,"level":3,"set":"B"},{"method":"Mulliken","rms":0.008,"level":3,"set":"B"},{"method":"Mulliken","rms":0.009,"level":3,"set":"B"},{"method":"Mulliken","rms":0.01,"level":3,"set":"B"},{"method":"Mulliken","rms":0.013,"level":3,"set":"B"},{"method":"Mulliken","rms":0.015,"level":3,"set":"B"},{"method":"Mulliken","rms":0.017,"level":3,"set":"B"},{"method":"Mulliken","rms":0.022,"level":3,"set":"B"},{"method":"Mulliken","rms":0.028,"level":3,"set":"B"},
{"method":"Mulliken","rms":0,"level":2,"set":"A"},{"method":"Mulliken","rms":0.001,"level":2,"set":"A"},{"method":"Mulliken","rms":0.002,"level":2,"set":"A"},{"method":"Mulliken","rms":0.003,"level":2,"set":"A"},{"method":"Mulliken","rms":0.004,"level":2,"set":"A"},{"method":"Mulliken","rms":0.005,"level":2,"set":"A"},{"method":"Mulliken","rms":0.006,"level":2,"set":"A"},{"method":"Mulliken","rms":0.007,"level":2,"set":"A"},{"method":"Mulliken","rms":0.008,"level":2,"set":"A"},{"method":"Mulliken","rms":0.009,"level":2,"set":"A"},{"method":"Mulliken","rms":0.01,"level":2,"set":"A"},{"method":"Mulliken","rms":0.012,"level":2,"set":"A"},{"method":"Mulliken","rms":0.016,"level":2,"set":"A"},{"method":"Mulliken","rms":0.018,"level":2,"set":"A"},{"method":"Mulliken","rms":0.024,"level":2,"set":"A"},{"method":"Mulliken","rms":0.03,"level":2,"set":"A"},
{"method":"Mulliken","rms":0,"level":1,"set":"B"},{"method":"Mulliken","rms":0.001,"level":1,"set":"B"},{"method":"Mulliken","rms":0.002,"level":1,"set":"B"},{"method":"Mulliken","rms":0.003,"level":1,"set":"B"},{"method":"Mulliken","rms":0.004,"level":1,"set":"B"},{"method":"Mulliken","rms":0.005,"level":1,"set":"B"},{"method":"Mulliken","rms":0.006,"level":1,"set":"B"},{"method":"Mulliken","rms":0.007,"level":1,"set":"B"},{"method":"Mulliken","rms":0.008,"level":1,"set":"B"},{"method":"Mulliken","rms":0.009,"level":1,"set":"B"},{"method":"Mulliken","rms":0.01,"level":1,"set":"B"},{"method":"Mulliken","rms":0.011,"level":1,"set":"B"},{"method":"Mulliken","rms":0.012,"level":1,"set":"B"},{"method":"Mulliken","rms":0.013,"level":1,"set":"B"},{"method":"Mulliken","rms":0.014,"level":1,"set":"B"},{"method":"Mulliken","rms":0.016,"level":1,"set":"B"},{"method":"Mulliken","rms":0.017,"level":1,"set":"B"},{"method":"Mulliken","rms":0.022,"level":1,"set":"B"},{"method":"Mulliken","rms":0.028,"level":1,"set":"B"},
{"method":"Mulliken","rms":0,"level":0,"set":"A"},{"method":"Mulliken","rms":0.004,"level":0,"set":"A"},{"method":"Mulliken","rms":0.005,"level":0,"set":"A"},{"method":"Mulliken","rms":0.006,"level":0,"set":"A"},{"method":"Mulliken","rms":0.007,"level":0,"set":"A"},{"method":"Mulliken","rms":0.008,"level":0,"set":"A"},{"method":"Mulliken","rms":0.009,"level":0,"set":"A"},{"method":"Mulliken","rms":0.015,"level":0,"set":"A"},{"method":"Mulliken","rms":0.018,"level":0,"set":"A"},{"method":"Mulliken","rms":0.022,"level":0,"set":"A"},{"method":"Mulliken","rms":0.026,"level":0,"set":"A"},{"method":"Mulliken","rms":0.032,"level":0,"set":"A"},{"method":"Mulliken","rms":0.035,"level":0,"set":"A"},{"method":"Mulliken","rms":0.046,"level":0,"set":"A"},{"method":"Mulliken","rms":0.052,"level":0,"set":"A"},

{"method":"RESP PH","rms":0.004,"level":9,"set":"star"},{"method":"RESP PH","rms":0.009,"level":8,"set":"star"},{"method":"RESP PH","rms":0.01,"level":7,"set":"star"},{"method":"RESP PH","rms":0.01,"level":6,"set":"star"},{"method":"RESP PH","rms":0.01,"level":4,"set":"star"},{"method":"RESP PH","rms":0.011,"level":5,"set":"star"},{"method":"RESP PH","rms":0.014,"level":3,"set":"star"},{"method":"RESP PH","rms":0.015,"level":1,"set":"star"},{"method":"RESP PH","rms":0.015,"level":0,"set":"star"},
{"method":"RESP 2X","rms":0.008,"level":9,"set":"star"},{"method":"RESP 2X","rms":0.011,"level":6,"set":"star"},{"method":"RESP 2X","rms":0.012,"level":7,"set":"star"},{"method":"RESP 2X","rms":0.013,"level":8,"set":"star"},{"method":"RESP 2X","rms":0.012,"level":3,"set":"star"},{"method":"RESP 2X","rms":0.013,"level":2,"set":"star"},{"method":"RESP 2X","rms":0.013,"level":1,"set":"star"},{"method":"RESP 2X","rms":0.014,"level":4,"set":"star"},{"method":"RESP 2X","rms":0.014,"level":0,"set":"star"},{"method":"RESP 2X","rms":0.015,"level":5,"set":"star"},
{"method":"RESP 1X","rms":0.009,"level":9,"set":"star"},{"method":"RESP 1X","rms":0.011,"level":6,"set":"star"},{"method":"RESP 1X","rms":0.013,"level":8,"set":"star"},{"method":"RESP 1X","rms":0.013,"level":7,"set":"star"},{"method":"RESP 1X","rms":0.013,"level":3,"set":"star"},{"method":"RESP 1X","rms":0.013,"level":2,"set":"star"},{"method":"RESP 1X","rms":0.014,"level":4,"set":"star"},{"method":"RESP 1X","rms":0.014,"level":1,"set":"star"},{"method":"RESP 1X","rms":0.014,"level":0,"set":"star"},{"method":"RESP 1X","rms":0.015,"level":5,"set":"star"},
{"method":"MK Ext.","rms":0.004,"level":9,"set":"star"},{"method":"MK Ext.","rms":0.01,"level":8,"set":"star"},{"method":"MK Ext.","rms":0.011,"level":7,"set":"star"},{"method":"MK Ext.","rms":0.012,"level":6,"set":"star"},{"method":"MK Ext.","rms":0.012,"level":5,"set":"star"},{"method":"MK Ext.","rms":0.011,"level":3,"set":"star"},{"method":"MK Ext.","rms":0.011,"level":2,"set":"star"},{"method":"MK Ext.","rms":0.013,"level":1,"set":"star"},{"method":"MK Ext.","rms":0.014,"level":0,"set":"star"},{"method":"MK Ext.","rms":0.015,"level":4,"set":"star"},
{"method":"MK","rms":0.012,"level":9,"set":"star"},{"method":"MK","rms":0.019,"level":8,"set":"star"},{"method":"MK","rms":0.02,"level":7,"set":"star"},{"method":"MK","rms":0.018,"level":6,"set":"star"},{"method":"MK","rms":0.018,"level":4,"set":"star"},{"method":"MK","rms":0.018,"level":3,"set":"star"},{"method":"MK","rms":0.019,"level":2,"set":"star"},{"method":"MK","rms":0.019,"level":1,"set":"star"},{"method":"MK","rms":0.019,"level":0,"set":"star"},{"method":"MK","rms":0.023,"level":5,"set":"star"},
{"method":"ChelpG","rms":0.008,"level":9,"set":"star"},{"method":"ChelpG","rms":0.012,"level":8,"set":"star"},{"method":"ChelpG","rms":0.013,"level":7,"set":"star"},{"method":"ChelpG","rms":0.014,"level":6,"set":"star"},{"method":"ChelpG","rms":0.013,"level":5,"set":"star"},{"method":"ChelpG","rms":0.014,"level":4,"set":"star"},{"method":"ChelpG","rms":0.013,"level":3,"set":"star"},{"method":"ChelpG","rms":0.013,"level":2,"set":"star"},{"method":"ChelpG","rms":0.015,"level":1,"set":"star"},{"method":"ChelpG","rms":0.015,"level":0,"set":"star"},
{"method":"Chelp","rms":0.011,"level":9,"set":"star"},{"method":"Chelp","rms":0.038,"level":2,"set":"star"},{"method":"Chelp","rms":0.039,"level":3,"set":"star"},{"method":"Chelp","rms":0.043,"level":6,"set":"star"},{"method":"Chelp","rms":0.043,"level":5,"set":"star"},{"method":"Chelp","rms":0.049,"level":0,"set":"star"},{"method":"Chelp","rms":0.056,"level":1,"set":"star"},{"method":"Chelp","rms":0.059,"level":7,"set":"star"},{"method":"Chelp","rms":0.061,"level":8,"set":"star"},{"method":"Chelp","rms":0.062,"level":4,"set":"star"},
{"method":"Mulliken","rms":0.002,"level":9,"set":"star"},{"method":"Mulliken","rms":0.006,"level":8,"set":"star"},{"method":"Mulliken","rms":0.007,"level":7,"set":"star"},{"method":"Mulliken","rms":0.01,"level":3,"set":"star"},{"method":"Mulliken","rms":0.01,"level":2,"set":"star"},{"method":"Mulliken","rms":0.011,"level":1,"set":"star"},{"method":"Mulliken","rms":0.018,"level":0,"set":"star"},{"method":"Mulliken","rms":0.02,"level":6,"set":"star"},{"method":"Mulliken","rms":0.02,"level":5,"set":"star"},{"method":"Mulliken","rms":0.02,"level":4,"set":"star"}
  ]},
  "encoding": {
    "y": {
      "field": "method",
      "type": "nominal",
      "scale": {
        "domain": ["RESP PH", "RESP 2X", "RESP 1X", "MK Ext.", "MK", "ChelpG", "Chelp", "Mulliken"],
        "range": [44.67, 795.5],
        "paddingInner": 0,
        "paddingOuter": 0
      },
      "axis": {
        "title": null,
        "domain": false,
        "ticks": false,
        "tickSize": 0,
        "labelAlign": "left",
        "labelBaseline": "middle",
        "labelPadding": 108,
        "labelFontSize": 23,
        "labelColor": "black",
        "labelLimit": 0
      }
    },
    "yOffset": {
      "field": "level",
      "type": "quantitative",
      "scale": {"domain": [0, 9], "range": [58.66, 16.42]}
    }
  },
  "layer": [
    {
      "transform": [{"filter": "datum.set !== 'star'"}],
      "mark": {"type": "circle", "size": 23, "opacity": 1},
      "encoding": {
        "x": {
          "field": "rms",
          "type": "quantitative",
          "scale": {"domain": [0, 0.08], "nice": false, "zero": false},
          "axis": {
            "orient": "bottom",
            "offset": -8,
            "values": [0, 0.01, 0.02, 0.03, 0.04, 0.05, 0.06, 0.07, 0.08],
            "format": "~g",
            "grid": false,
            "domain": false,
            "ticks": true,
            "tickSize": 8,
            "tickWidth": 1,
            "tickColor": "black",
            "labelPadding": 6,
            "labelFontSize": 23,
            "labelColor": "black",
            "labelFlush": false,
            "title": "RMS Charge Variation (e)",
            "titleFontSize": 23,
            "titleFontWeight": "normal",
            "titleColor": "black",
            "titlePadding": 1
          }
        },
        "color": {
          "field": "set",
          "type": "nominal",
          "scale": {"domain": ["A", "B"], "range": ["#0000ff", "#00ffff"]},
          "legend": null
        }
      }
    },
    {
      "transform": [{"filter": "datum.set === 'star'"}],
      "mark": {
        "type": "point",
        "shape": "M0,-1L0.2887,-0.5L0.866,-0.5L0.5774,0L0.866,0.5L0.2887,0.5L0,1L-0.2887,0.5L-0.866,0.5L-0.5774,0L-0.866,-0.5L-0.2887,-0.5Z",
        "size": 215,
        "filled": false,
        "stroke": "#ff00ff",
        "strokeWidth": 1.2,
        "opacity": 1
      },
      "encoding": {
        "x": {
          "field": "rms",
          "type": "quantitative",
          "scale": {"domain": [0, 0.08], "nice": false, "zero": false},
          "axis": {
            "orient": "top",
            "offset": -8,
            "values": [0, 0.01, 0.02, 0.03, 0.04, 0.05, 0.06, 0.07, 0.08],
            "labels": false,
            "grid": false,
            "domain": false,
            "ticks": true,
            "tickSize": 8,
            "tickWidth": 1,
            "tickColor": "black",
            "title": null
          }
        }
      }
    }
  ],
  "resolve": {"axis": {"x": "independent"}}
}
